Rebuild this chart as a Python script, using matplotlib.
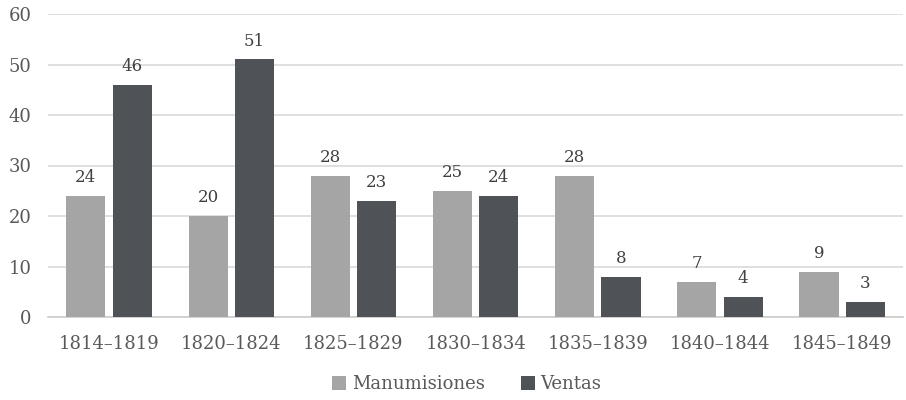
import numpy as np
import matplotlib.pyplot as plt

plt.rcParams.update({'font.family': ['DejaVu Serif']})

# data
periods = ["1814–1819", "1820–1824", "1825–1829", "1830–1834",
           "1835–1839", "1840–1844", "1845–1849"]
manumisiones = [24, 20, 28, 25, 28, 7, 9]
ventas = [46, 51, 23, 24, 8, 4, 3]

c_light = "#a5a5a5"
c_dark = "#4f5256"
c_text = "#595959"
c_grid = "#d9d9d9"

fig = plt.figure(figsize=(9.06, 4.0), dpi=100)
ax = fig.add_axes([0.053, 0.2075, 0.944, 0.7575])

x = np.arange(len(periods))
w = 0.32
off = 0.19
b1 = ax.bar(x - off, manumisiones, w, color=c_light, label="Manumisiones", zorder=3)
b2 = ax.bar(x + off, ventas, w, color=c_dark, label="Ventas", zorder=3)

for bars in (b1, b2):
    ax.bar_label(bars, padding=7, fontsize=12, color="#404040")

ax.set_ylim(0, 60)
ax.set_xlim(-0.5, len(periods) - 0.5)
ax.set_yticks(range(0, 61, 10))
ax.set_xticks(x)
ax.set_xticklabels(periods)
ax.yaxis.grid(True, color=c_grid, lw=1.2, zorder=0)
ax.set_axisbelow(True)
for s in ["top", "right", "left"]:
    ax.spines[s].set_visible(False)
ax.spines["bottom"].set_color("#cccccc")
ax.spines["bottom"].set_linewidth(1.2)
ax.tick_params(axis="both", length=0, labelsize=13, colors=c_text)
ax.tick_params(axis="y", pad=12)
ax.tick_params(axis="x", pad=13)

fig.legend(handles=[b1, b2], loc="center", bbox_to_anchor=(0.515, 0.04),
           ncol=2, frameon=False, fontsize=13, handlelength=0.8, handleheight=0.8,
           handletextpad=0.3, columnspacing=2.0, labelcolor=c_text)

fig.savefig("out.png", dpi=100)
